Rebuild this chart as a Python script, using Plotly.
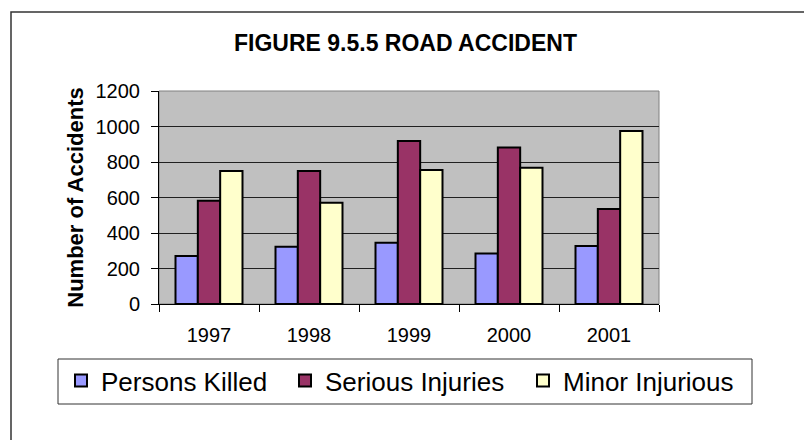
import plotly.graph_objects as go

years = ["1997", "1998", "1999", "2000", "2001"]
persons_killed = [270, 323, 345, 285, 327]
serious_injuries = [582, 749, 918, 881, 535]
minor_injurious = [749, 571, 755, 768, 975]
y_ticks = [0, 200, 400, 600, 800, 1000, 1200]

FONT = "Arial, Liberation Sans, sans-serif"
W, H = 804, 440
ML, MR, MT, MB = 159, 145, 91, 136
PW, PH = W - ML - MR, H - MT - MB

series = [
    ("Persons Killed", persons_killed, "#9999FF", "legend", 61),
    ("Serious Injuries", serious_injuries, "#993366", "legend2", 285),
    ("Minor Injurious", minor_injurious, "#FFFFCC", "legend3", 523),
]

fig = go.Figure()
for name, vals, col, leg, _ in series:
    fig.add_trace(go.Bar(
        x=years, y=vals, name=name, legend=leg,
        marker=dict(color=col, line=dict(color="black", width=2)),
    ))

def px_to_paper_x(px):
    return (px - ML) / PW

def px_to_paper_y(py):
    return (H - MB - py) / PH

legend_common = dict(
    orientation="h",
    xref="container", yref="container",
    xanchor="left", y=1 - 357 / H, yanchor="top",
    bgcolor="rgba(0,0,0,0)", borderwidth=0,
    font=dict(size=26, family=FONT, color="black"),
)
legends = {}
for _, _, _, leg, lx in series:
    legends[leg] = dict(legend_common, x=lx / W)

fig.update_layout(
    width=W, height=H,
    margin=dict(l=ML, r=MR, t=MT, b=MB, autoexpand=False),
    paper_bgcolor="white",
    plot_bgcolor="#C0C0C0",
    barmode="group", bargap=0.33, bargroupgap=0,
    font=dict(family=FONT, color="black"),
    title=dict(
        text="<b>FIGURE 9.5.5 ROAD ACCIDENT</b>",
        font=dict(size=23, family=FONT, color="black"),
        x=405.5 / W, xref="container", xanchor="center",
        y=1 - 43 / H, yref="container", yanchor="middle",
    ),
    xaxis=dict(
        type="category", tickson="boundaries",
        showgrid=False, showline=True, linecolor="black", linewidth=1,
        ticks="outside", ticklen=7, tickcolor="black",
        tickfont=dict(size=20, family=FONT, color="black"),
        ticklabelstandoff=13,
        range=[-0.5, 4.5], fixedrange=True,
    ),
    yaxis=dict(
        range=[0, 1200], tickvals=y_ticks,
        showgrid=True, gridcolor="#202020", gridwidth=1,
        showline=True, linecolor="black", linewidth=1,
        ticks="outside", ticklen=7, tickcolor="black",
        tickfont=dict(size=20, family=FONT, color="black"),
        ticklabelstandoff=7,
        zeroline=False, fixedrange=True,
        title=dict(text="<b>Number of Accidents</b>",
                   font=dict(size=22, family=FONT, color="black"),
                   standoff=5),
    ),
    showlegend=True,
    shapes=[
        dict(type="rect", xref="paper", yref="paper",
             x0=0, x1=1, y0=0, y1=1,
             line=dict(color="#808080", width=1), fillcolor="rgba(0,0,0,0)",
             layer="below"),
        dict(type="rect", xref="paper", yref="paper",
             x0=px_to_paper_x(11), x1=px_to_paper_x(W + 20),
             y0=px_to_paper_y(H + 20), y1=px_to_paper_y(12),
             line=dict(color="#333333", width=1.5), fillcolor="rgba(0,0,0,0)"),
        dict(type="rect", xref="paper", yref="paper",
             x0=px_to_paper_x(58), x1=px_to_paper_x(752),
             y0=px_to_paper_y(404), y1=px_to_paper_y(359),
             line=dict(color="#333333", width=1), fillcolor="rgba(0,0,0,0)"),
    ],
    **legends,
)

fig.write_html("out.html", config={"displayModeBar": False},
               post_script="document.body.style.margin='0';")
